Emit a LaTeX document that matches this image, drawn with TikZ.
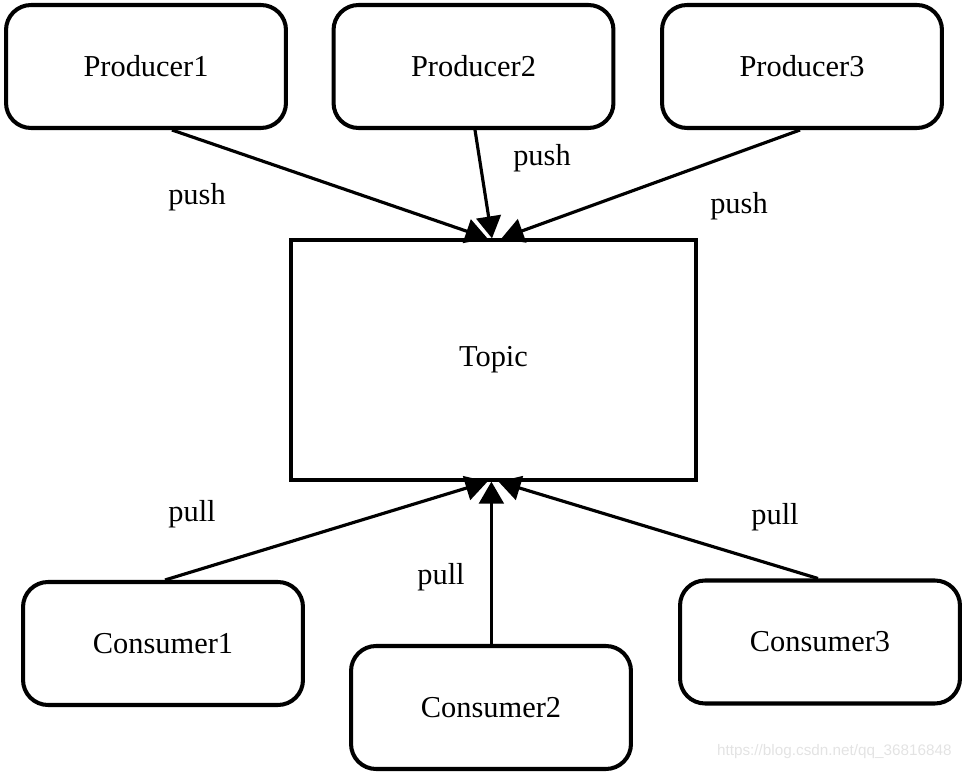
\documentclass[tikz,border=0pt]{standalone}
\usepackage{fontspec}
\setmainfont{Liberation Serif}
\setsansfont{Liberation Sans}
\usepackage{tikz}
\usetikzlibrary{%
  arrows.meta,
  positioning,
  calc}
\tikzset{
  %% Producer / consumer boxes
  clientbox/.style={
    rectangle, rounded corners=0.5cm,
    draw=black, line width=2.3pt, fill=white,
    minimum width=5.6cm, minimum height=2.46cm,
    font=\fontsize{17.3}{20}\selectfont},
  %% Topic box
  topicbox/.style={
    rectangle, draw=black, line width=1.9pt,
    minimum width=8.1cm, minimum height=4.8cm,
    font=\fontsize{17.3}{20}\selectfont},
  %% Edge labels
  lbl/.style={font=\fontsize{17.3}{20}\selectfont, inner sep=0pt},
  %% Arrows
  arrow/.style={-{Triangle[length=12.5pt,width=14pt]}, line width=1.8pt, black},
}

\begin{document}
\begin{tikzpicture}[x=0.02cm, y=-0.02cm]

  \useasboundingbox (0,0) rectangle (968,776);

  %% Producers
  \node[clientbox] (p1) at (146,66.5) {Producer1};
  \node[clientbox] (p2) at (473.5,66.5) {Producer2};
  \node[clientbox] (p3) at (802,66.5) {Producer3};

  %% Topic
  \node[topicbox] (topic) at (493.5,360) {Topic};

  %% Consumers
  \node[clientbox] (c1) at (163,643.5) {Consumer1};
  \node[clientbox] (c2) at (491,707.5) {Consumer2};
  \node[clientbox] (c3) at (820,642) {Consumer3};

  %% Labels
  \node[lbl] (push1) at (197,197) {push};
  \node[lbl] (push2) at (542,158) {push};
  \node[lbl] (push3) at (739,206) {push};
  \node[lbl] (pull1) at (192,514) {pull};
  \node[lbl] (pull2) at (441,577) {pull};
  \node[lbl] (pull3) at (775,517) {pull};

  %% Push flow
  \draw[arrow] ($(p1.south)+(26,0)$) -- ($(topic.north)+(-6,0)$);
  \draw[arrow] ($(p2.south)+(1.5,0)$) -- ($(topic.north)+(-1.5,0)$);
  \draw[arrow] ($(p3.south)+(-2,0)$) -- ($(topic.north)+(8,0)$);

  %% Pull flow
  \draw[arrow] ($(c1.north)+(2,0)$) -- ($(topic.south)+(-6,0)$);
  \draw[arrow] ($(c2.north)+(0.4,0)$) -- ($(topic.south)+(-2.1,0)$);
  \draw[arrow] ($(c3.north)+(-2,0)$) -- ($(topic.south)+(5,0)$);

  %% Watermark
  \node[font=\sffamily\fontsize{8.7}{10}\selectfont, text=gray!22, anchor=east, inner sep=0pt]
        (mark) at (952,752) {https://blog.csdn.net/qq\_36816848};

\end{tikzpicture}
\end{document}
